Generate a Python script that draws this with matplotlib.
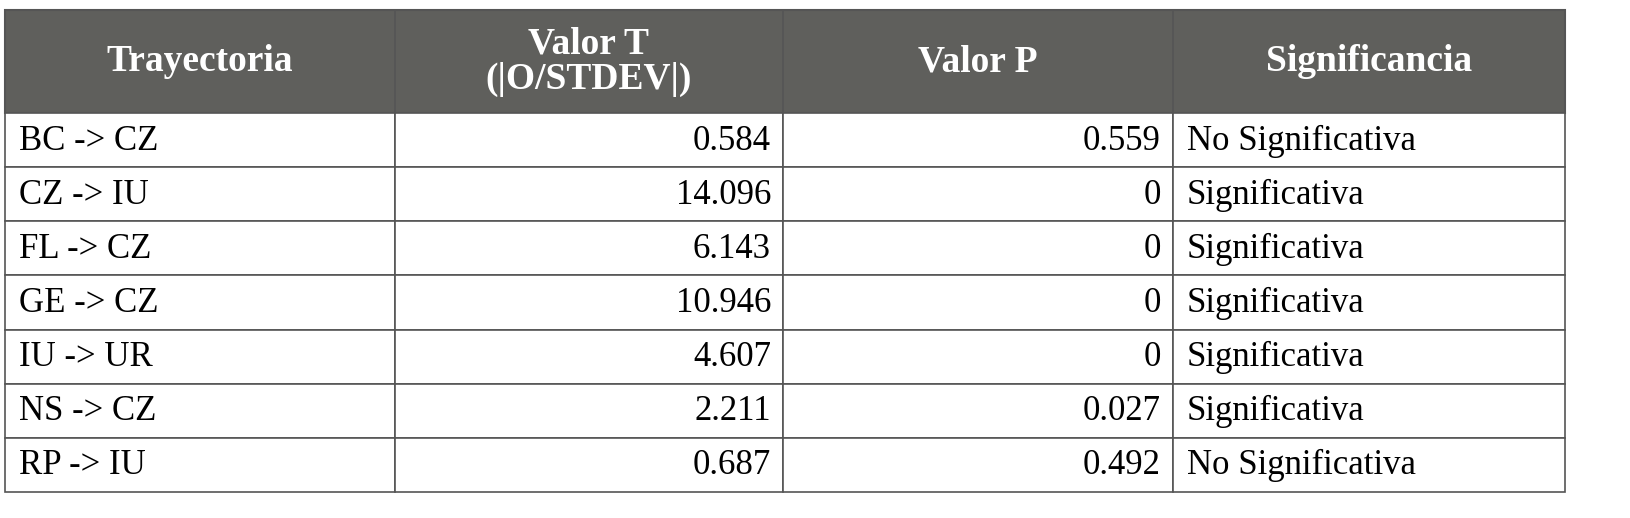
import matplotlib
matplotlib.use("Agg")
import matplotlib.pyplot as plt
from matplotlib.patches import Rectangle

headers = ["Trayectoria", "Valor T\n(|O/STDEV|)", "Valor P", "Significancia"]
trayectoria = ["BC -> CZ", "CZ -> IU", "FL -> CZ", "GE -> CZ", "IU -> UR", "NS -> CZ", "RP -> IU"]
valor_t = ["0.584", "14.096", "6.143", "10.946", "4.607", "2.211", "0.687"]
valor_p = ["0.559", "0", "0", "0", "0", "0.027", "0.492"]
signif = ["No Significativa", "Significativa", "Significativa", "Significativa",
          "Significativa", "Significativa", "No Significativa"]

W, H = 1630, 518
fig = plt.figure(figsize=(W/100, H/100), dpi=100)
ax = fig.add_axes([0, 0, 1, 1])
ax.set_xlim(0, W); ax.set_ylim(H, 0); ax.axis("off")

cols = [5, 395, 783, 1173, 1565]
top, hbot = 10, 113
rh = (492 - hbot) / 7
font = "Liberation Serif"
edge = "#555555"

ax.add_patch(Rectangle((cols[0], top), cols[-1]-cols[0], hbot-top, facecolor="#5f5f5c", edgecolor=edge, lw=1.5))
for i, h in enumerate(headers):
    ax.text((cols[i]+cols[i+1])/2, (top+hbot)/2, h, ha="center", va="center", color="white",
            fontsize=27, fontweight="bold", family=font, linespacing=1.0)
for i in range(1, 4):
    ax.plot([cols[i]]*2, [top, hbot], color=edge, lw=1.2)

for r in range(7):
    y0 = hbot + r*rh
    for c in range(4):
        ax.add_patch(Rectangle((cols[c], y0), cols[c+1]-cols[c], rh, facecolor="white", edgecolor=edge, lw=1.2))
    yc = y0 + rh/2 + 1
    ax.text(cols[0]+14, yc, trayectoria[r], ha="left", va="center", fontsize=25, family=font)
    ax.text(cols[2]-12, yc, valor_t[r], ha="right", va="center", fontsize=25, family=font)
    ax.text(cols[3]-12, yc, valor_p[r], ha="right", va="center", fontsize=25, family=font)
    ax.text(cols[3]+14, yc, signif[r], ha="left", va="center", fontsize=25, family=font)

fig.savefig("out.png", dpi=100, facecolor="white")
